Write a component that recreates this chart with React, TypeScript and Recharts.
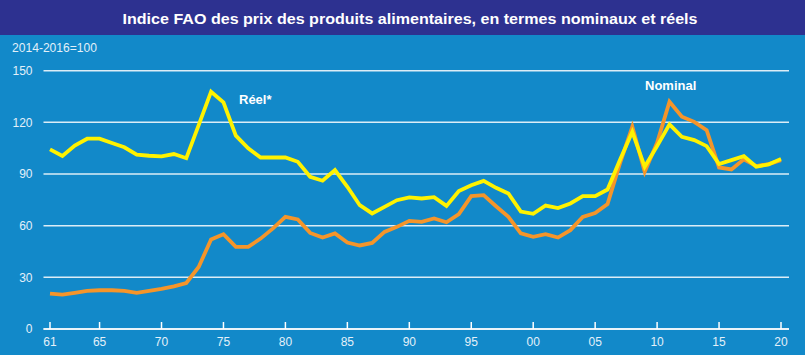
import { LineChart, Line, XAxis, YAxis, CartesianGrid } from 'recharts';

const YEARS = [
  1961, 1962, 1963, 1964, 1965, 1966, 1967, 1968, 1969, 1970,
  1971, 1972, 1973, 1974, 1975, 1976, 1977, 1978, 1979, 1980,
  1981, 1982, 1983, 1984, 1985, 1986, 1987, 1988, 1989, 1990,
  1991, 1992, 1993, 1994, 1995, 1996, 1997, 1998, 1999, 2000,
  2001, 2002, 2003, 2004, 2005, 2006, 2007, 2008, 2009, 2010,
  2011, 2012, 2013, 2014, 2015, 2016, 2017, 2018, 2019, 2020,
];

const REAL = [
  104.3, 100.5, 106.5, 110.5, 110.5, 108, 105.5, 101.2, 100.6, 100.2,
  101.6, 99.2, 118.4, 137.8, 131.6, 112.3, 104.9, 99.6, 99.6, 99.6,
  97.1, 88.4, 86.1, 92.3, 82.6, 71.9, 67.1, 70.9, 74.8, 76.4,
  75.8, 76.6, 71.5, 80.1, 83.5, 86, 82, 78.7, 68.2, 66.9,
  71.7, 70.2, 72.9, 77.2, 77.2, 81, 98.1, 114.5, 94.2, 106.2,
  118.8, 111.6, 109.7, 106.2, 95.8, 98.1, 100.4, 94.2, 95.6, 98.8,
];

const NOMINAL = [
  20.6, 20.0, 21.0, 22.1, 22.5, 22.5, 22.1, 21.0, 22.1, 23.3,
  24.8, 26.7, 36.0, 52.0, 55.0, 47.7, 47.7, 52.5, 58.4, 65.1,
  63.6, 55.8, 53.1, 55.5, 50.2, 48.5, 50.0, 56.4, 59.3, 62.8,
  62.2, 64.2, 62.0, 66.7, 77.2, 77.7, 71.3, 65.1, 55.5, 53.5,
  55.1, 53.1, 57.4, 65.1, 67.4, 72.5, 96.2, 117.4, 91.3, 108.1,
  132.0, 123.3, 120.3, 115.5, 93.8, 92.7, 98.5, 94.6, 95.8, 98.1,
];

const X_TICKS = [1961, 1965, 1970, 1975, 1980, 1985, 1990, 1995, 2000, 2005, 2010, 2015, 2020];
const Y_TICKS = [0, 30, 60, 90, 120, 150];

const TITLE = 'Indice FAO des prix des produits alimentaires, en termes nominaux et réels';
const UNIT = '2014-2016=100';

const BG = '#1289c9';
const NAVY = '#2d3190';
const TEXT = '#e3f0f9';
const FONT = "'Liberation Sans', Arial, sans-serif";

const data = YEARS.map((year, i) => ({ year, real: REAL[i], nominal: NOMINAL[i] }));

// upward tick mark plus two-digit year label under the axis line
function XTick(props: any) {
  const { x, y, payload } = props;
  const label = String(payload.value).slice(2);
  return (
    <g>
      <path d={`M${x},${y - 7}L${x},${y}`} stroke="#ffffff" strokeWidth={1.5} fill="none" />
      <text x={x} y={y + 17} textAnchor="middle" fill={TEXT} fontSize={12} fontFamily={FONT}>
        {label}
      </text>
    </g>
  );
}

export default function App() {
  return (
    <div style={{ position: 'absolute', left: 0, top: 0, width: 805, height: 355, background: BG, overflow: 'hidden' }}>
      <svg width={805} height={355} style={{ position: 'absolute', left: 0, top: 0 }}>
        <rect x={0} y={0} width={805} height={35} fill={NAVY} />
        <text x={410} y={23.5} textAnchor="middle" fill="#ffffff" fontSize={15} fontWeight="bold"
          fontFamily={FONT} textLength={575} lengthAdjust="spacingAndGlyphs">
          {TITLE}
        </text>
        <text x={12} y={52} fill={TEXT} fontSize={12} fontFamily={FONT} textLength={85} lengthAdjust="spacingAndGlyphs">
          {UNIT}
        </text>
        <text x={239} y={104} fill="#ffffff" fontSize={13} fontWeight="bold" fontFamily={FONT}>Réel*</text>
        <text x={645} y={90} fill="#ffffff" fontSize={13} fontWeight="bold" fontFamily={FONT}>Nominal</text>
      </svg>
      <div style={{ position: 'absolute', left: 0, top: 0 }}>
        <LineChart width={805} height={355} data={data} margin={{ top: 70.7, right: 16, bottom: 0, left: 0 }}>
          <CartesianGrid vertical={false} stroke="#ffffff" strokeOpacity={0.85} strokeWidth={1.5} />
          <XAxis
            dataKey="year"
            type="number"
            domain={[1961, 2020]}
            ticks={X_TICKS}
            padding={{ left: 6.5, right: 8 }}
            height={26}
            tickSize={0}
            tickMargin={0}
            tickLine={false}
            axisLine={{ stroke: '#ffffff', strokeWidth: 1.5 }}
            tick={<XTick />}
            interval={0}
          />
          <YAxis
            domain={[0, 150]}
            ticks={Y_TICKS}
            width={43.5}
            tickSize={0}
            tickMargin={11}
            axisLine={false}
            tickLine={false}
            tick={{ fill: TEXT, fontSize: 12, fontFamily: FONT }}
          />
          <Line
            type="linear"
            dataKey="nominal"
            stroke="#f5952a"
            strokeWidth={3.8}
            dot={false}
            isAnimationActive={false}
          />
          <Line
            type="linear"
            dataKey="real"
            stroke="#fff200"
            strokeWidth={3.8}
            dot={false}
            isAnimationActive={false}
          />
        </LineChart>
      </div>
    </div>
  );
}
